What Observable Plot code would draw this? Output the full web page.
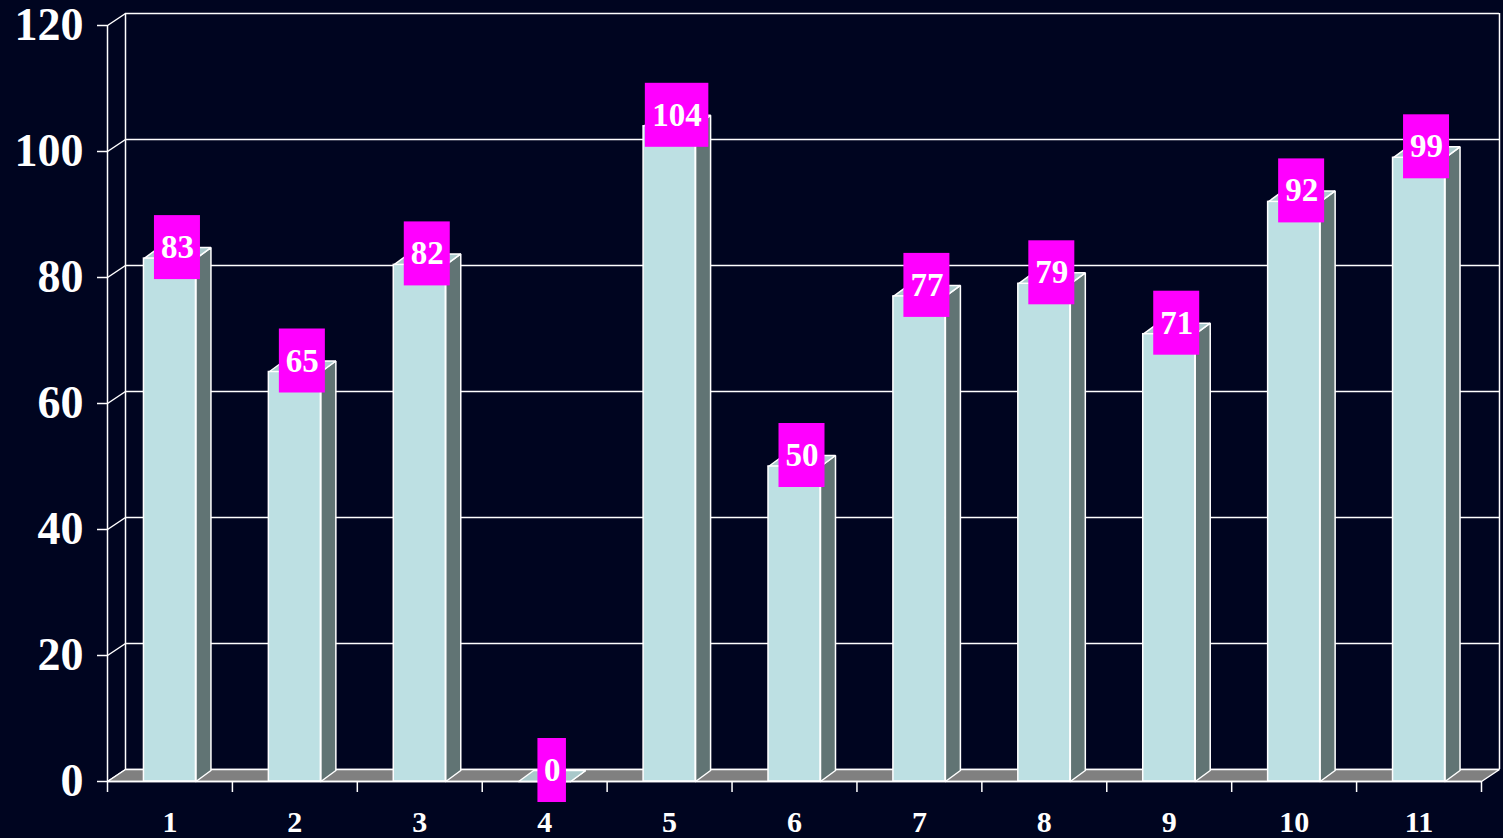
<!DOCTYPE html>
<html>
<head>
<meta charset="utf-8">
<script src="https://cdn.jsdelivr.net/npm/d3@7"></script>
<script src="https://cdn.jsdelivr.net/npm/@observablehq/plot@0.6"></script>
<style>
  html, body { margin: 0; padding: 0; background: #000520; overflow: hidden; }
</style>
</head>
<body>
<div id="chart"></div>
<script>
// ---- data ----
const categories = ["1", "2", "3", "4", "5", "6", "7", "8", "9", "10", "11"];
const values = [83, 65, 82, 0, 104, 50, 77, 79, 71, 92, 99];
const yTicks = [0, 20, 40, 60, 80, 100, 120];

// ---- layout ----
const W = 1503, H = 838;
const mL = 107, mR = 22, mT = 25, mB = 57;
const pxX = (W - mL - mR) / categories.length;   // px per x unit
const pxY = (H - mT - mB) / 120;                 // px per y unit
const wallDX = 18 / pxX, wallDY = 12 / pxY;      // back-wall depth (data units)
const barDX = 15 / pxX, barDY = 11 / pxY;        // bar depth (data units)
const halfW = 26 / pxX;                          // half front-face width
const BG = "#000520", FRONT = "#bde0e3", SIDE = "#617474", TOP = "#a9c8ca", FLOOR = "#808080", MAG = "#ff00ff";
const FONT = "Liberation Serif, Times New Roman, serif";

const bars = categories.map((c, i) => ({cat: c, x: i + 1, v: values[i]}));

// polygons: side and top faces
const sidePts = [], topPts = [];
bars.forEach((b, k) => {
  const l = b.x - halfW, r = b.x + halfW;
  [[r, 0], [r + barDX, barDY], [r + barDX, b.v + barDY], [r, b.v], [r, 0]]
    .forEach(([x, y]) => sidePts.push({id: k, x, y}));
  [[l, b.v], [r, b.v], [r + barDX, b.v + barDY], [l + barDX, b.v + barDY], [l, b.v]]
    .forEach(([x, y]) => topPts.push({id: k, x, y}));
});
const x0 = 0.5, x1 = categories.length + 0.5;
const floorPts = [[x0, 0], [x1, 0], [x1 + wallDX, wallDY], [x0 + wallDX, wallDY], [x0, 0]].map(([x, y]) => ({x, y}));
const bounds = d3.range(categories.length + 1).map(i => i + 0.5);

// label boxes
const boxH = 64 / pxY;
const labels = bars.map(b => {
  const t = String(b.v);
  const w = (11 + 17.5 * t.length) / pxX;
  const cx = b.x + barDX / 2, cy = b.v + barDY;
  return {t, cx, cy, x1: cx - w / 2, x2: cx + w / 2, y1: cy - boxH / 2, y2: cy + boxH / 2};
});

const white = {stroke: "white", strokeWidth: 1.5};

const chart = Plot.plot({
  width: W, height: H,
  marginLeft: mL, marginRight: mR, marginTop: mT, marginBottom: mB,
  style: {background: BG, overflow: "visible"},
  x: {type: "linear", domain: [x0, x1], axis: null},
  y: {type: "linear", domain: [0, 120], axis: null},
  marks: [
    // back wall
    Plot.ruleY(yTicks, {x1: x0 + wallDX, x2: x1 + wallDX, y: d => d + wallDY, ...white}),
    Plot.ruleX([x0 + wallDX, x1 + wallDX], {y1: wallDY, y2: 120 + wallDY, ...white}),
    // left wall diagonals
    Plot.link(yTicks, {x1: x0, y1: d => d, x2: x0 + wallDX, y2: d => d + wallDY, ...white}),
    // floor
    Plot.line(floorPts, {x: "x", y: "y", fill: FLOOR, ...white, strokeLinejoin: "miter"}),
    // bars
    Plot.line(sidePts, {x: "x", y: "y", z: "id", fill: SIDE, ...white, strokeLinejoin: "miter"}),
    Plot.line(topPts, {x: "x", y: "y", z: "id", fill: TOP, ...white, strokeLinejoin: "miter"}),
    Plot.rect(bars, {x1: d => d.x - halfW, x2: d => d.x + halfW, y1: 0, y2: "v", fill: FRONT, ...white}),
    // front axes
    Plot.ruleX([x0], {y1: 0, y2: 120, ...white}),
    Plot.ruleY([0], {x1: x0, x2: x1, ...white}),
    Plot.ruleY(yTicks, {x1: x0 - 10 / pxX, x2: x0, ...white}),
    Plot.ruleX(bounds, {y1: 0, y2: -11 / pxY, ...white}),
    Plot.text(yTicks, {x: x0, y: d => d, text: d => String(d), dx: -24, textAnchor: "end",
      fill: "white", fontSize: 46, fontWeight: "bold", fontFamily: FONT}),
    Plot.text(bars, {x: "x", y: 0, text: "cat", dy: 41, fill: "white", fontSize: 30,
      fontWeight: "bold", fontFamily: FONT}),
    // value labels
    Plot.rect(labels, {x1: "x1", x2: "x2", y1: "y1", y2: "y2", fill: MAG}),
    Plot.text(labels, {x: "cx", y: "cy", text: "t", fill: "white", fontSize: 33,
      fontWeight: "bold", fontFamily: FONT})
  ]
});
document.getElementById("chart").appendChild(chart);
</script>
</body>
</html>
